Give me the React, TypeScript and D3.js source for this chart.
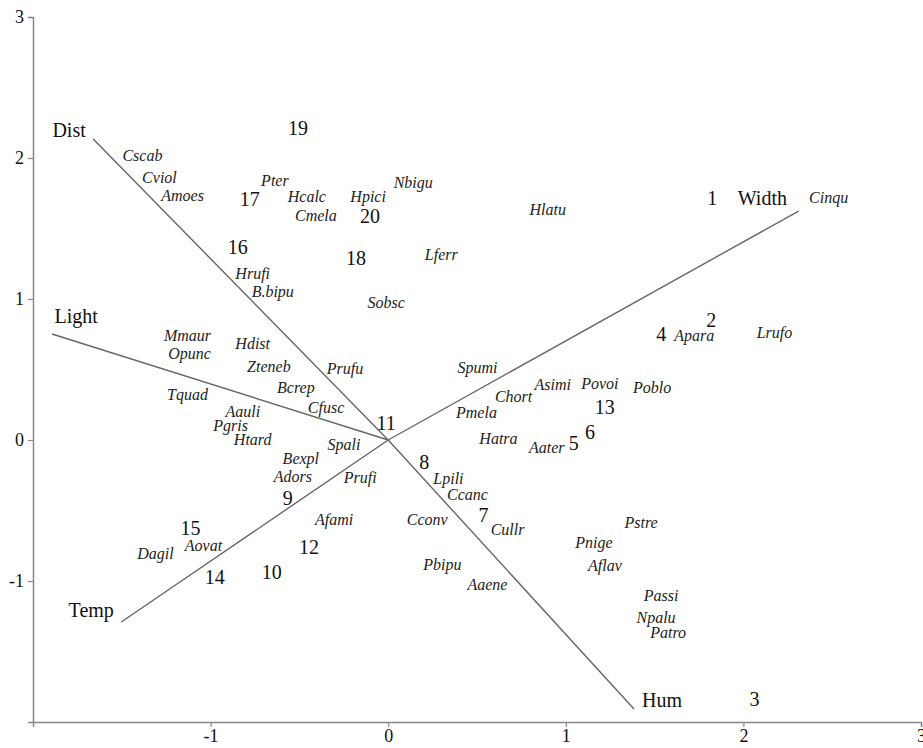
import React, { useEffect, useRef } from 'react';
import * as d3 from 'd3';

// site scores (numbers)
const siteNames = ['1', '2', '3', '4', '5', '6', '7', '8', '9', '10', '11', '12', '13', '14', '15', '16', '17', '18', '19', '20'];
const siteX = [1.825, 1.819, 2.062, 1.537, 1.045, 1.136, 0.537, 0.203, -0.565, -0.655, -0.011, -0.446, 1.22, -0.977, -1.113, -0.847, -0.78, -0.181, -0.508, -0.102];
const siteY = [1.716, 0.851, -1.837, 0.752, -0.021, 0.057, -0.532, -0.156, -0.411, -0.936, 0.121, -0.759, 0.234, -0.972, -0.624, 1.369, 1.709, 1.291, 2.213, 1.589];

// species scores (italic)
const speciesNames = [
  'Cscab', 'Cviol', 'Amoes', 'Pter', 'Hcalc', 'Hpici', 'Nbigu', 'Cmela', 'Hlatu', 'Lferr',
  'Hrufi', 'B.bipu', 'Sobsc', 'Mmaur', 'Opunc', 'Hdist', 'Zteneb', 'Prufu', 'Tquad', 'Bcrep',
  'Cfusc', 'Aauli', 'Pgris', 'Htard', 'Spali', 'Bexpl', 'Adors', 'Prufi', 'Afami', 'Dagil',
  'Aovat', 'Spumi', 'Asimi', 'Povoi', 'Poblo', 'Chort', 'Pmela', 'Hatra', 'Aater', 'Apara',
  'Lrufo', 'Cinqu', 'Lpili', 'Ccanc', 'Cconv', 'Cullr', 'Pstre', 'Pnige', 'Aflav', 'Pbipu',
  'Aaene', 'Passi', 'Npalu', 'Patro'
];
const speciesX = [
  -1.384, -1.288, -1.158, -0.638, -0.458, -0.113, 0.141, -0.407, 0.898, 0.299,
  -0.763, -0.65, -0.011, -1.13, -1.119, -0.763, -0.672, -0.243, -1.13, -0.52,
  -0.35, -0.819, -0.887, -0.763, -0.249, -0.492, -0.537, -0.158, -0.305, -1.311,
  -1.04, 0.503, 0.927, 1.192, 1.486, 0.706, 0.497, 0.621, 0.893, 1.723,
  2.175, 2.48, 0.339, 0.446, 0.22, 0.672, 1.424, 1.158, 1.22, 0.305,
  0.559, 1.537, 1.508, 1.576
];
const speciesY = [
  2.021, 1.865, 1.738, 1.844, 1.73, 1.73, 1.83, 1.596, 1.638, 1.319,
  1.184, 1.057, 0.979, 0.745, 0.617, 0.688, 0.525, 0.511, 0.326, 0.376,
  0.234, 0.206, 0.106, 0.007, -0.028, -0.128, -0.255, -0.262, -0.56, -0.801,
  -0.745, 0.518, 0.397, 0.404, 0.376, 0.312, 0.199, 0.014, -0.05, 0.745,
  0.766, 1.723, -0.27, -0.383, -0.56, -0.631, -0.582, -0.723, -0.887, -0.879,
  -1.021, -1.099, -1.255, -1.362
];

// environmental vectors
const envNames = ['Dist', 'Light', 'Temp', 'Hum', 'Width'];
const envX = [-1.661, -1.893, -1.503, 1.384, 2.311];
const envY = [2.135, 0.752, -1.291, -1.908, 1.624];
const envLabelX = [-1.797, -1.757, -1.672, 1.542, 2.107];
const envLabelY = [2.199, 0.879, -1.206, -1.844, 1.716];

const xTicks = [-1, 0, 1, 2, 3];
const yTicks = [-1, 0, 1, 2, 3];

const WIDTH = 923;
const HEIGHT = 748;
const FONT = "'Liberation Serif', 'DejaVu Serif', serif";

export default function App() {
  const svgRef = useRef<SVGSVGElement>(null);

  useEffect(() => {
    if (!svgRef.current) return;
    const svg = d3.select(svgRef.current);
    svg.selectAll('*').remove();

    const x = d3.scaleLinear().domain([-2, 3]).range([33, 921]);
    const y = d3.scaleLinear().domain([-2, 3]).range([722, 17]);

    svg.append('rect').attr('width', WIDTH).attr('height', HEIGHT).attr('fill', '#fff');

    // axes
    const xAxis = svg.append('g')
      .attr('transform', `translate(0,${y(-2)})`)
      .call(d3.axisBottom(x).tickValues(xTicks).tickSize(5).tickPadding(2).tickFormat((d) => String(d)));
    const yAxis = svg.append('g')
      .attr('transform', `translate(${x(-2)},0)`)
      .call(d3.axisLeft(y).tickValues(yTicks).tickSize(5).tickPadding(4).tickFormat((d) => String(d)));

    [xAxis, yAxis].forEach((a) => {
      a.attr('font-family', FONT).attr('font-size', 18);
      a.select('.domain').attr('stroke', '#888').attr('stroke-width', 1.5);
      a.selectAll('.tick line').attr('stroke', '#888').attr('stroke-width', 1.2);
      a.selectAll('.tick text').attr('fill', '#111');
    });

    // env vectors
    const g = svg.append('g').attr('font-family', FONT);
    envNames.forEach((name, i) => {
      g.append('line')
        .attr('x1', x(0)).attr('y1', y(0))
        .attr('x2', x(envX[i])).attr('y2', y(envY[i]))
        .attr('stroke', '#666')
        .attr('stroke-width', 1.4);
      g.append('text')
        .attr('x', x(envLabelX[i]))
        .attr('y', y(envLabelY[i]))
        .attr('text-anchor', 'middle')
        .attr('dy', '0.35em')
        .attr('font-size', 20)
        .attr('fill', '#111')
        .text(name);
    });

    // species
    g.selectAll('.sp')
      .data(speciesNames)
      .enter()
      .append('text')
      .attr('class', 'sp')
      .attr('x', (d, i) => x(speciesX[i]))
      .attr('y', (d, i) => y(speciesY[i]))
      .attr('text-anchor', 'middle')
      .attr('dy', '0.35em')
      .attr('font-style', 'italic')
      .attr('font-size', 16)
      .attr('fill', '#222')
      .text((d) => d);

    // sites
    g.selectAll('.site')
      .data(siteNames)
      .enter()
      .append('text')
      .attr('class', 'site')
      .attr('x', (d, i) => x(siteX[i]))
      .attr('y', (d, i) => y(siteY[i]))
      .attr('text-anchor', 'middle')
      .attr('dy', '0.35em')
      .attr('font-size', 20)
      .attr('fill', '#111')
      .text((d) => d);
  }, []);

  return (
    <svg
      ref={svgRef}
      width={WIDTH}
      height={HEIGHT}
      style={{ position: 'absolute', left: 0, top: 0, display: 'block' }}
    />
  );
}
